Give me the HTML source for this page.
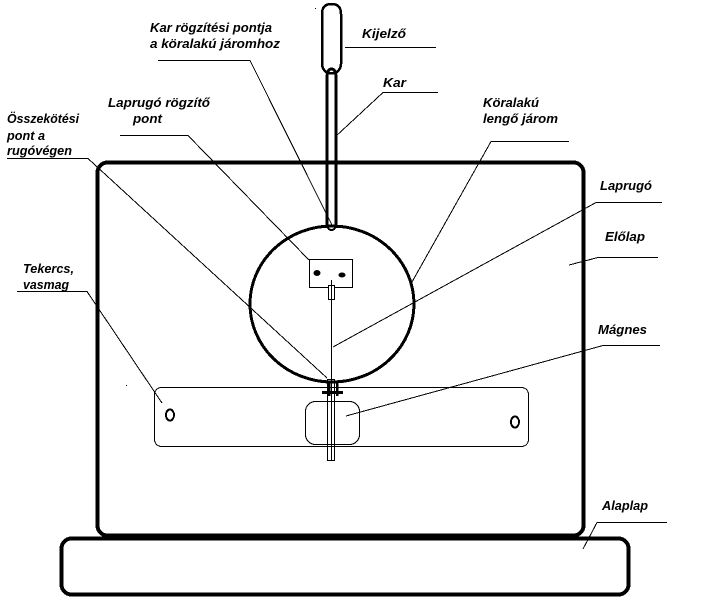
<!DOCTYPE html>
<html>
<head>
<meta charset="utf-8">
<style>
html,body{margin:0;padding:0;background:#fff}
svg{display:block}
text{font-family:"Liberation Sans",sans-serif;font-size:13px;font-weight:bold;font-style:italic;fill:#000}
</style>
</head>
<body>
<svg width="706" height="601" viewBox="0 0 706 601" xmlns="http://www.w3.org/2000/svg">
<rect width="706" height="601" fill="#fff"/>
<g fill="none" stroke="#000" shape-rendering="crispEdges">
  <!-- frames -->
  <rect x="97.5" y="162.5" width="486" height="373" rx="10" stroke-width="4"/>
  <rect x="61.5" y="538.5" width="567" height="56" rx="10" stroke-width="4"/>
  <!-- yoke -->
  <ellipse cx="332" cy="304" rx="82" ry="78" stroke-width="3"/>
  <!-- indicator and arm -->
  <path d="M322 64V14Q322 4 331.5 4T341 14V64Q341 69 336 73H327Q322 69 322 64Z" stroke-width="2.5"/>
  <path d="M327 228V78Q327 69 331.5 69T336 78V228" stroke-width="3"/>
  <path d="M327 222Q327 230 331.5 230T336 222" stroke-width="2"/>
  <!-- spring fixing -->
  <rect x="309.5" y="259.5" width="43" height="28" stroke-width="1"/>
  <rect x="328.5" y="285.5" width="6" height="14" fill="#fff" stroke-width="1"/>
  <path d="M331.5 280V379" stroke-width="1"/>
  <!-- coil and magnet -->
  <rect x="154.5" y="387.5" width="374" height="59" rx="7" stroke-width="1"/>
  <rect x="305.5" y="401.5" width="54" height="43" rx="10" stroke-width="1"/>
  <rect x="327.5" y="379.5" width="7" height="81" stroke-width="1"/>
  <path d="M331.5 379V460" stroke-width="1"/>
  <path d="M322 392.5H343" stroke-width="3"/>
  <path d="M329 381V396M337 381V396" stroke-width="2.5"/>
  <ellipse cx="170" cy="415" rx="4" ry="5.5" stroke-width="2"/>
  <ellipse cx="515" cy="422" rx="4" ry="5.5" stroke-width="2"/>
  <!-- leader lines -->
  <g stroke-width="1">
    <path d="M345 47.5H436"/>
    <path d="M335 137L383 92.5H438"/>
    <path d="M412 282L491 141.5H569"/>
    <path d="M333 347L596 202.5H662"/>
    <path d="M569 265L598 257.5H658"/>
    <path d="M346 416L603 345.5H660"/>
    <path d="M583 549L597 522.5H667"/>
    <path d="M162 403L87 291.5H17"/>
    <path d="M327 378L88 158.5H7"/>
    <path d="M309 260L188 135.5H120"/>
    <path d="M332 225L250 60.5H158"/>
  </g>
</g>
<ellipse cx="317" cy="273" rx="3.5" ry="3" fill="#000"/>
<ellipse cx="342" cy="275" rx="3.5" ry="2.5" fill="#000"/>
<rect x="126" y="385" width="1" height="1" fill="#000"/>
<rect x="315" y="8" width="1" height="1" fill="#000"/>
<text x="362" y="38" textLength="44" lengthAdjust="spacingAndGlyphs">Kijelző</text>
<text x="383" y="87" textLength="23" lengthAdjust="spacingAndGlyphs">Kar</text>
<text x="150" y="32" textLength="122" lengthAdjust="spacingAndGlyphs">Kar rögzítési pontja</text>
<text x="150" y="48" textLength="130" lengthAdjust="spacingAndGlyphs">a köralakú járomhoz</text>
<text x="483" y="107" textLength="56" lengthAdjust="spacingAndGlyphs">Köralakú</text>
<text x="483" y="123" textLength="75" lengthAdjust="spacingAndGlyphs">lengő járom</text>
<text x="108" y="107" textLength="102" lengthAdjust="spacingAndGlyphs">Laprugó rögzítő</text>
<text x="133" y="123" textLength="29" lengthAdjust="spacingAndGlyphs">pont</text>
<text x="7" y="123" textLength="72" lengthAdjust="spacingAndGlyphs">Összekötési</text>
<text x="7" y="140" textLength="38" lengthAdjust="spacingAndGlyphs">pont a</text>
<text x="7" y="155" textLength="65" lengthAdjust="spacingAndGlyphs">rugóvégen</text>
<text x="600" y="190" textLength="52" lengthAdjust="spacingAndGlyphs">Laprugó</text>
<text x="605" y="241" textLength="40" lengthAdjust="spacingAndGlyphs">Előlap</text>
<text x="23" y="273" textLength="51" lengthAdjust="spacingAndGlyphs">Tekercs,</text>
<text x="23" y="289" textLength="46" lengthAdjust="spacingAndGlyphs">vasmag</text>
<text x="598" y="334" textLength="49" lengthAdjust="spacingAndGlyphs">Mágnes</text>
<text x="602" y="510" textLength="46" lengthAdjust="spacingAndGlyphs">Alaplap</text>
</svg>
</body>
</html>
